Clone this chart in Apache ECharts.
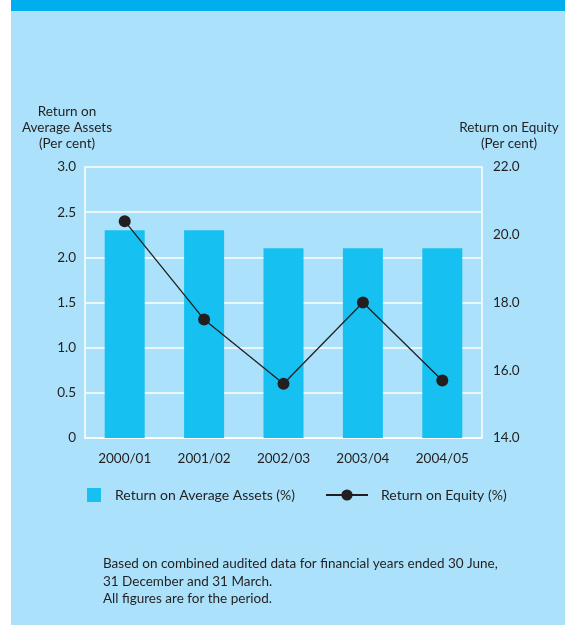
<!DOCTYPE html>
<html>
<head>
<meta charset="utf-8">
<script src="https://cdn.jsdelivr.net/npm/echarts@6/dist/echarts.min.js"></script>
<style>
  html, body { margin: 0; padding: 0; background: #ffffff; }
  #chart { width: 565px; height: 625px; }
</style>
</head>
<body>
<div id="chart"></div>
<script>
// Financial years shown along the category axis
const years = ['2000/01', '2001/02', '2002/03', '2003/04', '2004/05'];
// Return on average assets, per cent (bars, left axis)
const returnOnAssets = [2.3, 2.3, 2.1, 2.1, 2.1];
// Return on equity, per cent (line, right axis)
const returnOnEquity = [20.4, 17.5, 15.6, 18.0, 15.7];

const seriesNames = ['Return on Average Assets (%)', 'Return on Equity (%)'];
const footnote = [
  'Based on combined audited data for financial years ended 30 June,',
  '31 December and 31 March.',
  'All figures are for the period.'
];

const FONT = 'Lato, "Open Sans", sans-serif';
const INK = '#231f20';
const BG = '#abe1fa';
const BAR = '#16c1f1';

const chart = echarts.init(document.getElementById('chart'), null, { renderer: 'canvas' });

chart.setOption({
  backgroundColor: BG,
  animation: false,
  textStyle: { fontFamily: FONT, color: INK },
  graphic: [
    { type: 'rect', left: 0, top: 0, shape: { width: 11, height: 625 }, style: { fill: '#ffffff' }, silent: true },
    { type: 'rect', left: 11, top: 0, shape: { width: 554, height: 11 }, style: { fill: '#00aeef' }, silent: true },
    {
      type: 'text', left: 103, top: 555,
      style: { text: footnote.join('\n'), font: '13.5px ' + FONT, fill: INK, lineHeight: 17.5 }
    }
  ],
  grid: { left: 85, right: 83, top: 167, bottom: 187 },
  legend: [
    {
      data: [seriesNames[0]], left: 82, top: 483,
      itemWidth: 14, itemHeight: 14, icon: 'rect',
      textStyle: { fontFamily: FONT, fontSize: 14, color: INK, padding: [0, 0, 0, 9] }
    },
    {
      data: [seriesNames[1]], left: 320, top: 483,
      itemWidth: 42, itemHeight: 14,
      textStyle: { fontFamily: FONT, fontSize: 14, color: INK, padding: [0, 0, 0, 8] }
    }
  ],
  xAxis: {
    type: 'category',
    data: years,
    axisLine: { lineStyle: { color: '#ffffff', width: 1.5 } },
    axisTick: { show: false },
    axisLabel: { color: INK, fontFamily: FONT, fontSize: 13.5, margin: 14 }
  },
  yAxis: [
    {
      type: 'value', min: 0, max: 3, interval: 0.5,
      name: 'Return on\nAverage Assets\n(Per cent)',
      nameLocation: 'end', nameGap: 15,
      nameTextStyle: { color: INK, fontFamily: FONT, fontSize: 13.5, lineHeight: 16, align: 'center', padding: [0, 36, 0, 0] },
      axisLine: { show: true, lineStyle: { color: '#ffffff', width: 1.5 } },
      axisTick: { show: false },
      splitLine: { lineStyle: { color: '#ffffff', width: 1.5 } },
      axisLabel: {
        color: INK, fontFamily: FONT, fontSize: 13.5, margin: 9,
        formatter: v => v === 0 ? '0' : v.toFixed(1)
      }
    },
    {
      type: 'value', min: 14, max: 22, interval: 2,
      name: 'Return on Equity\n(Per cent)',
      nameLocation: 'end', nameGap: 15,
      nameTextStyle: { color: INK, fontFamily: FONT, fontSize: 13.5, lineHeight: 16, align: 'center', padding: [0, 0, 0, 54] },
      axisLine: { show: true, lineStyle: { color: '#ffffff', width: 1.5 } },
      axisTick: { show: false },
      splitLine: { show: false },
      axisLabel: {
        color: INK, fontFamily: FONT, fontSize: 13.5, margin: 11,
        formatter: v => v.toFixed(1)
      }
    }
  ],
  series: [
    {
      name: seriesNames[0], type: 'bar', yAxisIndex: 0,
      data: returnOnAssets, barWidth: 40,
      itemStyle: { color: BAR }
    },
    {
      name: seriesNames[1], type: 'line', yAxisIndex: 1,
      data: returnOnEquity,
      symbol: 'circle', symbolSize: 12,
      lineStyle: { color: INK, width: 1.3 },
      itemStyle: { color: INK }
    }
  ]
});
</script>
</body>
</html>
